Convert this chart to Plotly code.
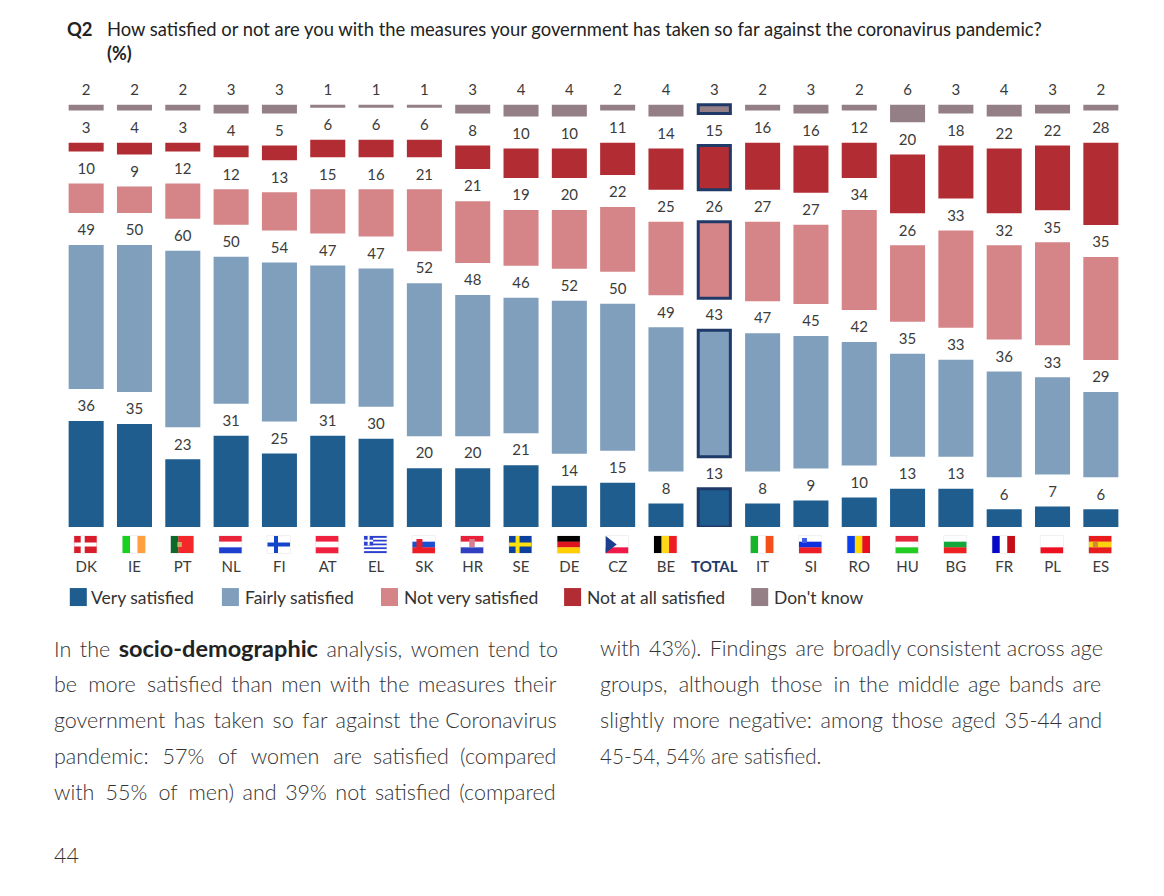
import plotly.graph_objects as go

countries = ["DK","IE","PT","NL","FI","AT","EL","SK","HR","SE","DE","CZ","BE","TOTAL","IT","SI","RO","HU","BG","FR","PL","ES"]
very = [36,35,23,31,25,31,30,20,20,21,14,15,8,13,8,9,10,13,13,6,7,6]
fairly = [49,50,60,50,54,47,47,52,48,46,52,50,49,43,47,45,42,35,33,36,33,29]
not_very = [10,9,12,12,13,15,16,21,21,19,20,22,25,26,27,27,34,26,33,32,35,35]
not_at_all = [3,4,3,4,5,6,6,6,8,10,10,11,14,15,16,16,12,20,18,22,22,28]
dont_know = [2,2,2,3,3,1,1,1,3,4,4,2,4,3,2,3,2,6,3,4,3,2]
series_names = ["Very satisfied","Fairly satisfied","Not very satisfied","Not at all satisfied","Don't know"]
series_colors = ["#1f5d8f","#7f9fbd","#d58488","#b22d33","#947f86"]
series_values = [very,fairly,not_very,not_at_all,dont_know]

W, H = 1164, 896
LEFT, RIGHT = 62.2, 1124.6
BOTTOM, PXPER = 527, 2.94
GAP = 32 / PXPER
LABEL_LIFT = 6 / PXPER
TOP_VAL = 155
plot_h = TOP_VAL * PXPER
TXT = "#3b3b3b"
FONT = "Lato"
NAVY = "#1f3a68"

def px(x): return (x - LEFT) / (RIGHT - LEFT)
def py(y): return (BOTTOM - y) / plot_h

fig = go.Figure()
base = [0.0] * len(countries)
lab_x, lab_y, lab_t = [], [], []
total_i = countries.index("TOTAL")
for name, color, vals in zip(series_names, series_colors, series_values):
    fig.add_trace(go.Bar(
        x=countries, y=vals, base=base, name=name, showlegend=False,
        width=[0.665 if i == total_i else 0.725 for i in range(len(countries))],
        marker=dict(color=color,
                    line=dict(color=[NAVY if i == total_i else "rgba(255,255,255,0)" for i in range(len(countries))],
                              width=[3 if i == total_i else 0 for i in range(len(countries))])),
        hoverinfo="x+y+name"))
    tops = [b + v for b, v in zip(base, vals)]
    lab_x += countries; lab_y += [t + LABEL_LIFT for t in tops]; lab_t += [str(v) for v in vals]
    base = [t + GAP for t in tops]

fig.add_trace(go.Scatter(x=lab_x, y=lab_y, text=lab_t, mode="text", textposition="top center",
                         textfont=dict(family=FONT, size=15, color=TXT), showlegend=False, hoverinfo="skip", cliponaxis=False))

def rect(x0, x1, y0, y1, color, line=None):
    fig.add_shape(type="rect", xref="paper", yref="paper", x0=px(x0), x1=px(x1), y0=py(y0), y1=py(y1),
                  fillcolor=color, line=dict(width=0), layer="above")

FLAG_W, FLAG_H, FLAG_Y = 22.5, 17, 536
h_flags = {"NL":["#e8233a","#ffffff","#1d3fd0"],"AT":["#f0203f","#ffffff","#f0203f"],"SK":["#ffffff","#1a4fd0","#ee1c25"],
           "HR":["#e8203a","#ffffff","#3040c0"],"DE":["#000000","#e0141e","#ffce00"],"SI":["#ffffff","#1030e0","#ee1c25"],
           "HU":["#e8283a","#ffffff","#22cc22"],"BG":["#ffffff","#14a838","#ee2020"],"PL":["#ffffff","#ffffff","#ee1020"],
           "CZ":["#ffffff","#ffffff","#f01848"],"ES":["#e81c1c","#fcd20c","#e81c1c"]}
v_flags = {"IE":["#16d11f","#ffffff","#ff9f3f"],"IT":["#16b52a","#ffffff","#f5501a"],"BE":["#000000","#ffd81a","#ef1c24"],
           "RO":["#0a3ff0","#ffd800","#e8101c"],"FR":["#0808c8","#ffffff","#c40d17"],"PT":["#0b6a2a","#f4272a","#f4272a"]}
cross = {"DK":("#d91c2a","#ffffff"),"FI":("#ffffff","#1246c8"),"SE":("#0b3fa0","#ffe010")}
for i, c in enumerate(countries):
    cx = LEFT + (i + 0.5) * (RIGHT - LEFT) / len(countries) - 0.7
    if c == "TOTAL":
        continue
    x0, y0 = cx - FLAG_W / 2, FLAG_Y
    rect(x0 - 0.7, x0 + FLAG_W + 0.7, y0 - 0.7, y0 + FLAG_H + 0.7, "#ececec")
    if c in h_flags:
        for k, col in enumerate(h_flags[c]):
            rect(x0, x0 + FLAG_W, y0 + k * FLAG_H / 3, y0 + (k + 1) * FLAG_H / 3 + 0.2, col)
    elif c in v_flags:
        for k, col in enumerate(v_flags[c]):
            rect(x0 + k * FLAG_W / 3, x0 + (k + 1) * FLAG_W / 3 + 0.2, y0, y0 + FLAG_H, col)
    elif c in cross:
        bg, fg = cross[c]
        rect(x0, x0 + FLAG_W, y0, y0 + FLAG_H, bg)
        rect(x0 + 6.5, x0 + 10.5, y0, y0 + FLAG_H, fg)
        rect(x0, x0 + FLAG_W, y0 + 6.5, y0 + 10.5, fg)
    elif c == "EL":
        for k in range(9):
            rect(x0, x0 + FLAG_W, y0 + k * FLAG_H / 9, y0 + (k + 1) * FLAG_H / 9, "#2a3fd0" if k % 2 == 0 else "#ffffff")
        rect(x0, x0 + 9, y0, y0 + 9.5, "#2a3fd0")
        rect(x0 + 3.5, x0 + 5.5, y0, y0 + 9.5, "#ffffff")
        rect(x0, x0 + 9, y0 + 3.7, y0 + 5.7, "#ffffff")
    if c == "PT":
        rect(x0 + 6.5, x0 + 11, y0 + 6, y0 + 11, "#c8b060")
    if c == "SK":
        rect(x0 + 4, x0 + 10, y0 + 3, y0 + 12, "#e02030")
    if c == "HR":
        rect(x0 + 8.5, x0 + 14, y0 + 3, y0 + 11, "#d88090")
    if c == "SI":
        rect(x0 + 3, x0 + 8, y0 + 2, y0 + 7, "#4060e0")
    if c == "ES":
        rect(x0 + 4, x0 + 9, y0 + 6, y0 + 11, "#d08a30")
    if c == "CZ":
        xs = [x0, x0 + 11, x0, x0]
        ys = [y0, y0 + FLAG_H / 2, y0 + FLAG_H, y0]
        path = "M " + " L ".join(f"{px(a):.5f} {py(b):.5f}" for a, b in zip(xs, ys)) + " Z"
        fig.add_shape(type="path", xref="paper", yref="paper", path=path, fillcolor="#1c3f90", line=dict(width=0), layer="above")

def text(x, y, s, size=14, color=TXT, anchor="left", weight=None):
    f = dict(family=FONT, size=size, color=color)
    if weight:
        f["weight"] = weight
    fig.add_annotation(xref="paper", yref="paper", x=px(x), y=py(y), text=s, showarrow=False, xanchor=anchor, yanchor="middle",
                       font=f, align="left", borderpad=0, borderwidth=0)

legend_x = [70, 222, 381, 564, 751]
legend_tx = [91, 245, 404, 587, 774]
for lx, tx, name, color in zip(legend_x, legend_tx, series_names, series_colors):
    rect(lx, lx + 17, 588, 606, color)
    text(tx, 597, name, size=17.5, color="#333333")

text(67, 29.5, "<b>Q2</b>", size=18.4, color="#222222")
text(107, 29.5, "How satisfied or not are you with the measures your government has taken so far against the coronavirus pandemic?", size=18.4, color="#222222")
text(107, 53, "<b>(%)</b>", size=18, color="#222222")

para_left = [
    (["In","the","<b><span style='font-size:23.5px;color:#222222'>socio-demographic</span></b>","analysis,","women","tend","to"], 6, 21.5),
    (["be","more","satisfied","than","men","with","the","measures","their"], 10, 21.5),
    (["government","has","taken","so","far","against","the","Coronavirus"], 6, 21.5),
    (["pandemic:","57%","of","women","are","satisfied","(compared"], 16, 21.5),
    (["with","55%","of","men)","and","39%","not","satisfied","(compared"], 11, 21.5),
]
para_right = [
    (["with","43%).","Findings","are","broadly","consistent","across","age"], 4, 21.5),
    (["groups,","although","those","in","the","middle","age","bands","are"], 11, 21.5),
    (["slightly","more","negative:","among","those","aged","35-44","and"], 6, 21.5),
    (["45-54,","54%","are","satisfied."], 0, 20.6),
]
def join_words(words, extra):
    gaps = len(words) - 1
    out = words[0]
    for j, w in enumerate(words[1:]):
        k = extra // gaps + (1 if j < extra % gaps else 0)
        out += " " + "\u2009" * k + w
    return out
BODY = "#333333"
for n, (words, extra, size) in enumerate(para_left):
    text(54, 648 + n * 36, join_words(words, extra), size=size, color=BODY, weight=300)
for n, (words, extra, size) in enumerate(para_right):
    text(600, 648 + n * 36, join_words(words, extra), size=size, color=BODY, weight=300)
text(54, 855, "44", size=21.5, color=BODY, weight=300)

ticktext = [f"<b><span style='color:{NAVY}'>{c}</span></b>" if c == "TOTAL" else c for c in countries]
fig.update_layout(
    width=W, height=H, autosize=False, barmode="overlay", showlegend=False,
    paper_bgcolor="white", plot_bgcolor="white",
    margin=dict(l=LEFT, r=W - RIGHT, t=BOTTOM - plot_h, b=H - BOTTOM, pad=0),
    xaxis=dict(type="category", categoryorder="array", categoryarray=countries, tickmode="array", tickvals=countries,
               ticktext=ticktext, ticks="", showline=False, showgrid=False, zeroline=False, ticklabelstandoff=29,
               tickangle=0, tickfont=dict(family=FONT, size=15, color=TXT), range=[-0.5, 21.5]),
    yaxis=dict(visible=False, range=[0, TOP_VAL], fixedrange=True),
)
fig.write_html("out.html", config={"displayModeBar": False}, post_script="document.body.style.margin='0';")
